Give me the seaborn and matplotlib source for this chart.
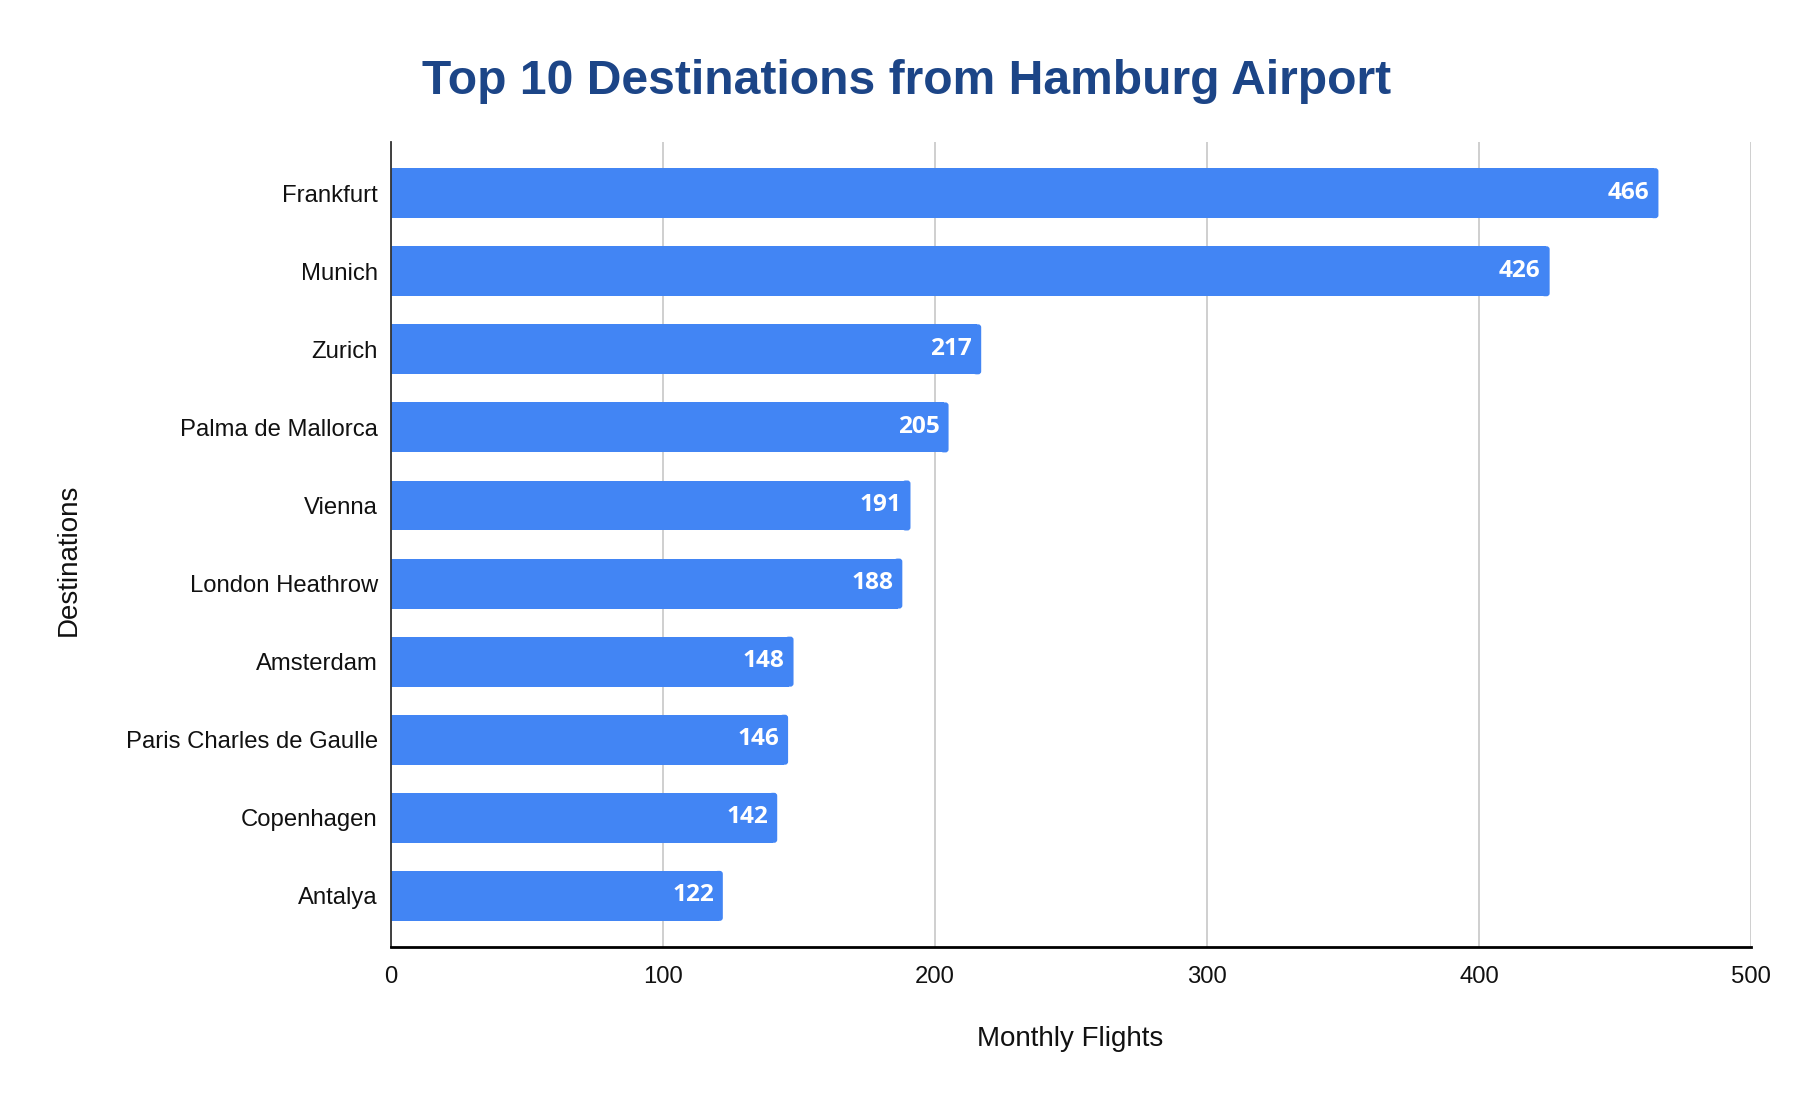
import matplotlib
matplotlib.use("Agg")
import matplotlib.pyplot as plt
from matplotlib.patches import FancyBboxPatch
import seaborn as sns
import pandas as pd

destinations = ["Frankfurt", "Munich", "Zurich", "Palma de Mallorca", "Vienna",
                "London Heathrow", "Amsterdam", "Paris Charles de Gaulle",
                "Copenhagen", "Antalya"]
monthly_flights = [466, 426, 217, 205, 191, 188, 148, 146, 142, 122]
x_ticks = [0, 100, 200, 300, 400, 500]

df = pd.DataFrame({"Destinations": destinations, "Monthly Flights": monthly_flights})

sns.set_style("white")
plt.rcParams['font.family'] = ['Liberation Sans', 'DejaVu Sans']

BAR = "#4285F4"
fig = plt.figure(figsize=(18.06, 11.08), dpi=100)
ax = fig.add_axes([0.2165, 0.1453, 0.9695 - 0.2165, 0.8718 - 0.1453])

sns.barplot(data=df, x="Monthly Flights", y="Destinations", color=BAR,
            saturation=1, width=0.64, ax=ax, zorder=3)

ax.set_xlim(0, 500)
ax.set_ylim(9.655, -0.655)

# small rounded cap on the right end of each bar
for p in list(ax.patches):
    x0, y0, w, h = p.get_x(), p.get_y(), p.get_width(), p.get_height()
    cap = FancyBboxPatch((x0 + w - 3, y0), 3, h,
                         boxstyle="round,pad=0,rounding_size=1.1",
                         mutation_aspect=0.035, facecolor=BAR, edgecolor="none",
                         zorder=3)
    ax.add_patch(cap)
    p.set_width(w - 1.5)
    p.set_edgecolor("none")

ax.set_xticks(x_ticks)
ax.set_xticklabels([str(t) for t in x_ticks])
ax.xaxis.grid(True, color="#cccccc", linewidth=1.3, zorder=0)
ax.yaxis.grid(False)
ax.set_axisbelow(True)

for s in ["top", "right"]:
    ax.spines[s].set_visible(False)
ax.spines["left"].set_color("#333333")
ax.spines["left"].set_linewidth(1.3)
ax.spines["left"].set_zorder(4)
ax.spines["bottom"].set_color("black")
ax.spines["bottom"].set_linewidth(2)
ax.spines["bottom"].set_zorder(4)

ax.tick_params(axis="x", length=0, pad=14, labelsize=17.2, labelcolor="#111111")
ax.tick_params(axis="y", length=0, pad=9.5, labelsize=17.2, labelcolor="#111111")
ax.set_xlabel("")
ax.set_ylabel("")

for i, v in enumerate(monthly_flights):
    ax.annotate(str(v), xy=(v, i), xytext=(-6.5, 0.3), textcoords="offset points",
                ha="right", va="center", color="white", fontsize=17.6,
                fontweight="bold", family=["Open Sans", "DejaVu Sans"], zorder=5)

fig.text(0.502, 0.926, "Top 10 Destinations from Hamburg Airport", ha="center",
         va="center", fontsize=34.6, fontweight="bold", color="#1c4587")
fig.text(0.5925, 0.062, "Monthly Flights", ha="center", va="center", fontsize=20,
         color="#111111")
fig.text(0.038, 0.495, "Destinations", ha="center", va="center", fontsize=20,
         rotation=90, color="#111111")

fig.savefig("out.png", dpi=100)
